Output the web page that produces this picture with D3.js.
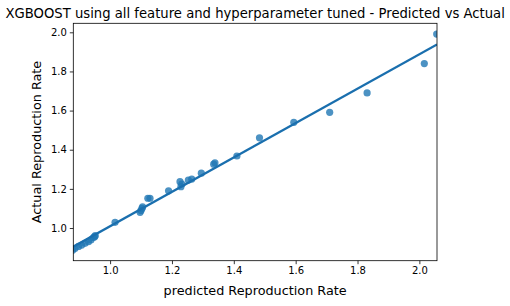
<!DOCTYPE html>
<html><head><meta charset="utf-8">
<script src="https://cdn.jsdelivr.net/npm/d3@7"></script>
<style>body{margin:0;background:#fff}svg{display:block}text{font-family:"DejaVu Sans",sans-serif;fill:#000}</style>
</head><body><svg id="c" width="510" height="306"></svg>
<script>
const predicted = [0.879,0.887,0.898,0.908,0.919,0.930,0.938,0.946,0.952,0.950,1.016,1.097,1.100,1.103,1.105,1.122,1.129,1.189,1.226,1.229,1.232,1.253,1.264,1.295,1.335,1.339,1.410,1.483,1.594,1.710,1.831,2.016,2.056];
const actual    = [0.886,0.896,0.906,0.913,0.922,0.930,0.939,0.951,0.961,0.956,1.029,1.080,1.090,1.100,1.108,1.152,1.152,1.190,1.237,1.211,1.225,1.245,1.250,1.280,1.326,1.333,1.368,1.461,1.540,1.591,1.690,1.840,1.991];
const xTicks = [1.0,1.2,1.4,1.6,1.8,2.0];
const yTicks = [1.0,1.2,1.4,1.6,1.8,2.0];
const title = "XGBOOST using all feature and hyperparameter tuned - Predicted vs Actual";
const xLabel = "predicted Reproduction Rate";
const yLabel = "Actual Reproduction Rate";

const L=73.3,R=437,T=23.3,B=260.7;
const svg=d3.select("#c");
const x=d3.scaleLinear().domain([0.881,2.057]).range([L,R]);
const y=d3.scaleLinear().domain([0.833,2.046]).range([B,T]);

svg.append("defs").append("clipPath").attr("id","clip").append("rect")
  .attr("x",L).attr("y",T).attr("width",R-L).attr("height",B-T);

// regression
const n=predicted.length, mx=d3.mean(predicted), my=d3.mean(actual);
let sxy=0,sxx=0; for(let i=0;i<n;i++){sxy+=(predicted[i]-mx)*(actual[i]-my);sxx+=(predicted[i]-mx)**2;}
const b=sxy/sxx, a=my-b*mx;
const xd=x.domain();
const g=svg.append("g").attr("clip-path","url(#clip)");
g.selectAll("circle").data(predicted).join("circle")
  .attr("cx",(d)=>x(d)).attr("cy",(d,i)=>y(actual[i])).attr("r",3.6)
  .attr("fill","#1f77b4").attr("fill-opacity",0.8);
g.append("line").attr("x1",x(xd[0])).attr("y1",y(a+b*xd[0])).attr("x2",x(xd[1])).attr("y2",y(a+b*xd[1]))
  .attr("stroke","#1a6fae").attr("stroke-width",2.2);

const xa=svg.append("g").attr("transform",`translate(0,${B})`)
  .call(d3.axisBottom(x).tickValues(xTicks).tickFormat(d3.format(".1f")).tickSize(3.5).tickPadding(3));
const ya=svg.append("g").attr("transform",`translate(${L},0)`)
  .call(d3.axisLeft(y).tickValues(yTicks).tickFormat(d3.format(".1f")).tickSize(3.5).tickPadding(3));
[xa,ya].forEach(s=>{s.select(".domain").remove();s.selectAll("text").attr("font-size",10).attr("font-family","DejaVu Sans");s.selectAll("line").attr("stroke","#000").attr("stroke-width",0.8);});
xa.selectAll("text").attr("dy","0.71em");
svg.append("rect").attr("x",L).attr("y",T).attr("width",R-L).attr("height",B-T)
  .attr("fill","none").attr("stroke","#000").attr("stroke-width",0.8);

svg.append("text").attr("x",(L+R)/2).attr("y",18).attr("text-anchor","middle").attr("font-size",13.2).text(title);
svg.append("text").attr("x",(L+R)/2).attr("y",295).attr("text-anchor","middle").attr("font-size",12.8).text(xLabel);
svg.append("text").attr("transform",`translate(40.5,${(T+B)/2}) rotate(-90)`).attr("text-anchor","middle").attr("font-size",12.8).text(yLabel);
</script></body></html>
